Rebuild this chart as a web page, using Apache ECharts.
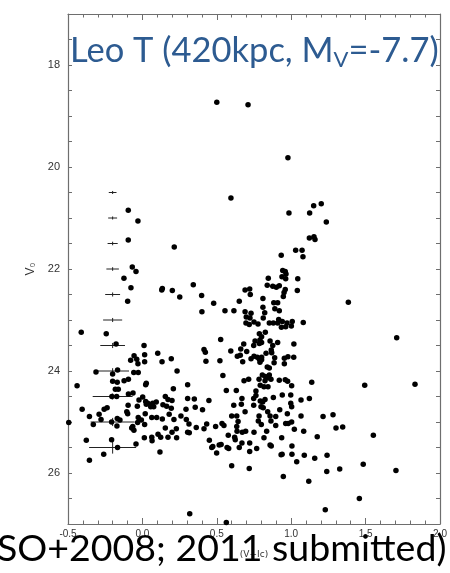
<!DOCTYPE html>
<html><head><meta charset="utf-8">
<script src="https://cdn.jsdelivr.net/npm/echarts@6/dist/echarts.min.js"></script>
<style>html,body{margin:0;padding:0;background:#fff}#c{width:450px;height:573px}</style>
</head><body><div id="c"></div>
<script>
// (V - I_c) colour, V_0 magnitude
const stars = [
[0.50,18.73],[0.71,18.78],[0.978,19.82],[0.595,20.61],[0.985,20.90],[1.124,20.90],[1.151,20.76],[1.202,20.72],[1.236,21.08],[1.122,21.39],[1.153,21.37],[1.160,21.42],[0.933,21.73],[1.030,21.63],[1.073,21.63],[1.079,21.76],[0.943,22.03],[0.960,22.05],[0.965,22.10],[0.846,22.18],[0.938,22.15],[0.963,22.19],[1.044,22.19],[1.384,22.65],[1.081,23.05],[1.709,23.35],
[-0.095,20.85],[-0.030,21.06],[-0.095,21.43],[0.214,21.57],[-0.068,21.96],[-0.043,22.05],[-0.124,22.18],[-0.077,22.37],[0.130,22.41],[0.134,22.38],[0.201,22.42],[0.251,22.55],[0.342,22.31],[-0.099,22.63],
[-0.411,23.24],[-0.243,23.27],[-0.177,23.47],[0.011,23.50],[-0.056,23.70],[-0.038,23.77],[-0.079,23.79],[-0.030,23.86],[0.015,23.68],[0.015,23.82],[0.103,23.65],[0.132,23.82],[0.194,23.76],[0.233,24.00],[-0.312,24.02],[-0.167,23.98],[-0.200,24.06],[-0.058,24.03],[-0.028,24.03],[-0.439,24.29],[-0.200,24.20],[-0.169,24.22],[-0.123,24.19],[-0.094,24.16],[0.026,24.24],[0.022,24.27],[-0.182,24.36],[-0.162,24.36],[-0.094,24.45],[-0.063,24.43],[0.208,24.35],[0.304,24.27],[-0.205,24.50],[-0.173,24.50],[0.002,24.51],[-0.023,24.57],[0.022,24.60],[0.036,24.63],[0.069,24.63],[0.093,24.61],[0.154,24.50],[0.172,24.56],[0.199,24.58],[0.304,24.54],[0.349,24.55],[-0.096,24.67],[-0.034,24.69],[0.026,24.65],[0.076,24.70],[0.056,24.70],[0.138,24.66],[0.163,24.69],[0.194,24.73],[0.293,24.75],[0.355,24.71],[-0.257,24.75],[-0.237,24.72],[-0.405,24.75],[-0.356,24.89],[-0.291,24.85],[-0.278,24.95],[-0.105,24.80],[-0.099,24.84],[-0.028,24.91],[0.019,24.84],[0.180,24.85],[0.259,24.88],[0.063,24.91],[0.096,24.91],[0.134,24.94],[0.212,24.95],[0.295,24.95],[-0.169,24.93],[-0.151,24.96],[-0.207,25.00],[-0.171,25.08],[-0.330,25.05],[-0.495,25.01],[-0.072,25.12],[-0.057,25.16],[-0.065,25.09],[-0.032,25.01],[-0.007,24.96],[0.015,25.05],[0.313,25.04],[0.154,25.12],[0.228,25.13],[0.304,25.20],[0.315,25.21],[0.362,25.11],[0.105,25.24],[0.123,25.30],[0.172,25.30],[0.199,25.20],[0.230,25.31],[0.013,25.31],[0.063,25.30],[0.065,25.37],[-0.043,25.43],[0.118,25.59],[-0.377,25.36],[-0.207,25.35],[-0.167,25.50],[-0.260,25.63],[-0.356,25.75],
[0.398,22.52],[0.479,22.67],[0.400,22.84],[0.555,22.82],[0.615,22.82],[0.651,22.63],[0.690,22.41],[0.721,22.39],[0.725,22.50],[0.839,22.32],[0.810,22.58],[0.876,22.34],[0.900,22.36],[0.920,22.33],[0.960,22.40],[0.952,22.46],[1.041,22.42],[0.947,22.54],[0.810,22.75],[0.822,22.86],[0.883,22.66],[0.909,22.66],[0.890,22.78],[0.920,22.82],[0.690,22.84],[0.730,22.87],[0.723,22.96],[0.698,22.94],[0.696,23.06],[0.718,23.09],[0.750,23.04],[0.777,23.08],[0.812,22.96],[0.853,23.06],[0.880,23.06],[0.916,22.99],[0.909,23.06],[0.940,23.03],[0.963,23.13],[0.972,23.06],[1.001,23.12],[1.007,23.03],[0.934,23.14],[0.526,23.38],[0.826,23.24],[0.786,23.27],[0.801,23.33],[0.790,23.39],[0.801,23.44],[0.786,23.46],[0.757,23.41],[0.748,23.50],[0.681,23.47],[0.701,23.62],[0.661,23.57],[0.594,23.61],[0.658,23.69],[0.638,23.71],[0.674,23.82],[0.730,23.76],[0.750,23.71],[0.772,23.73],[0.786,23.77],[0.801,23.73],[0.801,23.78],[0.790,23.83],[0.858,23.41],[0.876,23.50],[0.909,23.44],[0.866,23.59],[0.869,23.64],[0.831,23.65],[0.889,23.74],[0.885,23.84],[0.954,23.75],[0.954,23.86],[0.978,23.72],[1.018,23.47],[1.017,23.73],[0.521,23.80],[0.427,23.81],[0.414,23.58],[0.423,23.63],[0.541,24.09],[0.839,23.92],[0.853,23.94],[0.806,24.08],[0.826,24.11],[0.844,24.13],[0.853,24.08],[0.864,24.16],[0.824,24.19],[0.784,24.16],[0.792,24.28],[0.817,24.31],[0.844,24.31],[0.763,24.39],[0.683,24.19],[0.714,24.16],[0.920,24.18],[0.960,24.17],[0.976,24.20],[1.003,24.29],[1.138,24.22],[0.564,24.38],[0.631,24.38],[0.404,24.76],[0.447,24.58],[0.614,24.67],[0.665,24.65],[0.669,24.54],[0.748,24.54],[0.763,24.48],[0.792,24.59],[0.808,24.61],[0.824,24.56],[0.748,24.67],[0.797,24.70],[0.812,24.72],[0.880,24.52],[0.940,24.47],[0.997,24.47],[0.997,24.63],[1.003,24.70],[0.923,24.76],[0.600,24.88],[0.634,24.88],[0.690,24.80],[0.784,24.88],[0.842,24.80],[0.858,24.88],[0.896,24.89],[0.974,24.84],[0.535,25.03],[0.548,25.07],[0.492,25.09],[0.634,25.09],[0.643,24.99],[0.779,24.98],[0.799,25.05],[0.864,24.98],[0.896,25.07],[0.963,25.03],[0.980,25.03],[1.003,25.00],[1.021,25.14],[0.835,25.18],[0.694,25.18],[0.671,25.20],[0.636,25.18],[0.577,25.26],[0.620,25.30],[0.624,25.35],[0.669,25.41],[0.721,25.41],[0.750,25.20],[0.817,25.31],[0.858,25.45],[0.866,25.47],[0.936,25.31],[1.005,25.47],[0.432,25.04],[0.414,25.13],[0.450,25.36],[0.466,25.50],[0.473,25.48],[0.499,25.61],[0.516,25.45],[0.529,25.44],[0.569,25.50],[0.580,25.52],[0.651,25.50],[0.721,25.58],[0.768,25.52],[0.600,25.86],[0.718,25.91],[0.932,25.64],[0.939,25.63],[1.005,25.63],[1.037,25.78],[0.947,26.07],
[1.494,24.28],[1.832,24.26],[1.066,24.57],[1.122,24.54],[1.066,24.88],[1.214,24.89],[1.281,24.86],[1.084,25.18],[1.301,25.12],[1.346,25.10],[1.175,25.29],[1.552,25.26],[1.088,25.65],[1.158,25.71],[1.241,25.65],[1.239,25.97],[1.326,25.92],[1.484,25.83],[1.704,25.95],[1.118,26.16],
[0.318,26.80],[0.564,26.97],[1.229,26.72],[1.458,26.50]
];

// photometric error bars (placed at colour -0.2)
const errColour = -0.2;
const errMag       = [20.5, 21.0, 21.5, 22.0, 22.5, 23.0, 23.5, 24.0, 24.5, 25.0, 25.5];
const errColourHalf= [0.026,0.030,0.034,0.042,0.050,0.064,0.083,0.110,0.134,0.148,0.158];
const errMagHalf   = [0.03, 0.03, 0.035,0.035,0.04, 0.04, 0.05, 0.055,0.06, 0.08, 0.12];

const xMin = -0.5, xMax = 2.0, xStep = 0.5;
const yMin = 17, yMax = 27, yStep = 1;

const errData = errMag.map((m, i) => [errColour, m, errColourHalf[i], errMagHalf[i]]);

const chart = echarts.init(document.getElementById('c'), null, {renderer: 'canvas'});
const axisCol = '#6e6e6e';
const baseX = {
  type: 'value', min: xMin, max: xMax, interval: xStep,
  axisLine: {onZero: false, lineStyle: {color: axisCol, width: 1.2}},
  axisTick: {inside: true, length: 6, lineStyle: {color: axisCol}},
  minorTick: {show: true, splitNumber: 5, length: 3.5, lineStyle: {color: axisCol}},
  splitLine: {show: false}
};
const baseY = {
  type: 'value', min: yMin, max: yMax, interval: yStep, inverse: true,
  axisLine: {onZero: false, lineStyle: {color: axisCol, width: 1.2}},
  axisTick: {inside: true, length: 4, lineStyle: {color: axisCol}},
  minorTick: {show: true, splitNumber: 2, length: 4, lineStyle: {color: axisCol}},
  splitLine: {show: false}
};
chart.setOption({
  animation: false,
  backgroundColor: '#fff',
  grid: {left: 68, right: 10, top: 14, bottom: 49},
  xAxis: [
    Object.assign({}, baseX, {
      position: 'bottom',
      name: '(V\u2212I\u1d04)', nameLocation: 'middle', nameGap: 26,
      nameTextStyle: {fontSize: 9, color: '#333', fontFamily: 'DejaVu Sans'},
      axisLabel: {fontSize: 10, color: '#333', margin: 5, fontFamily: 'Liberation Sans',
        formatter: v => v.toFixed(1)}
    }),
    Object.assign({}, baseX, {position: 'top', axisLabel: {show: false}})
  ],
  yAxis: [
    Object.assign({}, baseY, {
      position: 'left',
      name: 'V\u2080', nameLocation: 'middle', nameGap: 28, nameRotate: 90,
      nameTextStyle: {fontSize: 12, color: '#333', fontFamily: 'Liberation Sans'},
      axisLabel: {fontSize: 11, color: '#333', margin: 8, fontFamily: 'Liberation Sans',
        formatter: v => (Math.round(v) % 2 === 0 ? String(v) : '')}
    }),
    Object.assign({}, baseY, {position: 'right', axisLabel: {show: false}})
  ],
  series: [
    {
      type: 'custom', xAxisIndex: 0, yAxisIndex: 0, data: errData, z: 2,
      renderItem: function (params, api) {
        const x = api.value(0), y = api.value(1), dx = api.value(2), dy = api.value(3);
        const l = api.coord([x - dx, y]), r = api.coord([x + dx, y]);
        const t = api.coord([x, y - dy]), b = api.coord([x, y + dy]);
        return {type: 'group', children: [
          {type: 'line', shape: {x1: l[0], y1: l[1], x2: r[0], y2: r[1]}, style: {stroke: '#222', lineWidth: 1}},
          {type: 'line', shape: {x1: t[0], y1: t[1], x2: b[0], y2: b[1]}, style: {stroke: '#222', lineWidth: 1}}
        ]};
      }
    },
    {
      type: 'scatter', xAxisIndex: 0, yAxisIndex: 0, data: stars, z: 3,
      symbol: 'circle', symbolSize: 5.5,
      itemStyle: {color: '#000', opacity: 1}
    }
  ],
  graphic: [
    {
      type: 'text', left: 70, top: 33, z: 100,
      style: {
        text: '{a|Leo T (420kpc, M}{b|V}{a|=-7.7)}',
        rich: {
          a: {fontSize: 34.5, fontFamily: 'Lato', fill: '#2d5b91', color: '#2d5b91'},
          b: {fontSize: 22, fontFamily: 'Lato', fill: '#2d5b91', color: '#2d5b91', padding: [19, 0, 0, 0]}
        }
      }
    },
    {
      type: 'text', left: -3, top: 530, z: 100,
      style: {text: 'SO+2008; 2011 submitted)', fontSize: 37.5, fontFamily: 'Lato', fill: '#000'}
    }
  ]
});
</script></body></html>
